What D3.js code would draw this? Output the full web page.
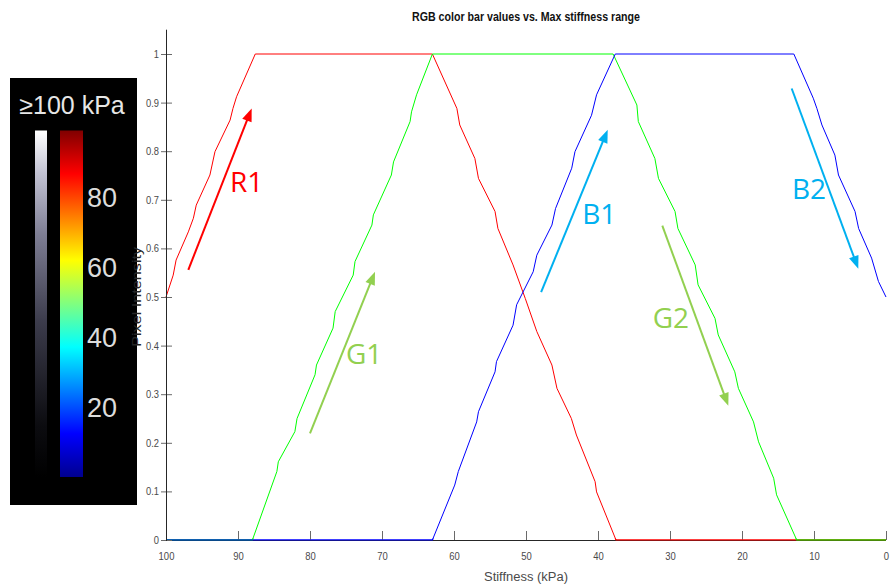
<!DOCTYPE html>
<html>
<head>
<meta charset="utf-8">
<script src="https://cdn.jsdelivr.net/npm/d3@7"></script>
<style>
  html, body { margin: 0; padding: 0; background: #fff; }
  svg { display: block; }
</style>
</head>
<body>
<svg id="chart" width="890" height="588"></svg>
<script>
// ---------- data (stiffness kPa, pixel intensity) ----------
const redCurve = [[100,0.5],[99.0,0.545],[98.6,0.576],[96.9,0.634],[96.2,0.662],[95.8,0.689],[93.9,0.751],[93.2,0.799],[91.1,0.864],[90.7,0.888],[90.2,0.912],[87.6,1],[63.0,1],[59.6,0.888],[59.2,0.854],[57.1,0.785],[56.6,0.744],[54.3,0.676],[53.9,0.641],[51.8,0.566],[50.1,0.497],[48.5,0.429],[46.4,0.360],[45.7,0.312],[43.7,0.250],[43.0,0.216],[40.4,0.120],[40.2,0.099],[37.5,0],[0,0]];
const greenCurve = [[100,0],[88.0,0],[84.6,0.141],[84.4,0.161],[82.1,0.223],[81.8,0.250],[79.3,0.340],[79.1,0.360],[76.8,0.436],[76.5,0.470],[74.0,0.545],[73.75,0.573],[71.4,0.648],[71.2,0.669],[68.7,0.751],[68.4,0.778],[66.1,0.861],[65.9,0.881],[65.2,0.916],[63.0,1],[37.9,1],[34.6,0.895],[34.4,0.861],[32.1,0.785],[31.6,0.744],[29.3,0.676],[28.9,0.641],[26.5,0.566],[26.1,0.525],[23.75,0.456],[23.3,0.422],[21.0,0.346],[20.5,0.312],[18.4,0.243],[17.7,0.202],[15.6,0.127],[15.2,0.093],[12.4,0],[0,0]];
const blueCurve = [[100,0],[63.0,0],[59.9,0.113],[59.4,0.141],[56.85,0.243],[56.6,0.264],[54.3,0.346],[54.1,0.367],[51.8,0.442],[51.3,0.484],[49.0,0.552],[48.5,0.586],[46.4,0.648],[45.9,0.682],[43.65,0.765],[43.2,0.799],[40.9,0.874],[40.2,0.916],[37.6,1],[12.8,1],[10.1,0.909],[9.6,0.888],[8.9,0.854],[7.1,0.792],[6.6,0.751],[4.3,0.676],[3.8,0.641],[2.0,0.580],[1.05,0.532],[0,0.5]];

const xTickValues = [100,90,80,70,60,50,40,30,20,10,0];
const yTickValues = [0,0.1,0.2,0.3,0.4,0.5,0.6,0.7,0.8,0.9,1];
const colorbarTicks = [20,40,60,80];

// annotation arrows (in data units)
const annLabels = ["R1","G1","B1","G2","B2"];
const annTail = [[96.9,0.556],[80.0,0.2195],[47.9,0.510],[31.07,0.647],[13.1,0.929]];
const annTip  = [[88.1,0.888],[70.97,0.552],[38.65,0.844],[21.9,0.276],[3.85,0.558]];
const annText = [[91.1,0.717],[75.0,0.362],[42.2,0.650],[32.4,0.436],[13.06,0.702]];

// ---------- styles ----------
const annColors = {R:"#ff0000", G:"#92d050", B:"#00b0f0"};
const W = 890, H = 588;

const svg = d3.select("#chart");
svg.append("rect").attr("width", W).attr("height", H).attr("fill", "#fff");

const x = d3.scaleLinear().domain([100, 0]).range([166, 886]);
const y = d3.scaleLinear().domain([0, 1]).range([540, 54]);
const yTop = y(1.05);

const defs = svg.append("defs");

// ---------- colorbar panel ----------
const panel = svg.append("g");
panel.append("rect").attr("x", 10).attr("y", 78).attr("width", 127).attr("height", 427).attr("fill", "#000");
panel.append("text").attr("x", 72).attr("y", 114).attr("text-anchor", "middle")
  .attr("font-family", "Liberation Sans, Arial, sans-serif").attr("font-size", 25)
  .attr("fill", "#e6e6e6").text("≥100 kPa");

const cb = d3.scaleLinear().domain([0, 100]).range([477, 127]);

const jetStops = [[0,"#00008f"],[0.125,"#0000ff"],[0.375,"#00ffff"],[0.625,"#ffff00"],[0.875,"#ff0000"],[1,"#800000"]];
const jg = defs.append("linearGradient").attr("id","jet").attr("x1",0).attr("x2",0).attr("y1",1).attr("y2",0);
jetStops.forEach(s => jg.append("stop").attr("offset", s[0]).attr("stop-color", s[1]));
panel.append("rect").attr("x", 60).attr("y", cb(99)).attr("width", 23).attr("height", cb(0) - cb(99)).attr("fill", "url(#jet)");

const grayStops = [[0,"#000000"],[0.15,"#0c0c10"],[0.45,"#3c3c4c"],[0.7,"#7e7e94"],[0.88,"#c4c4d4"],[1,"#ffffff"]];
const gg = defs.append("linearGradient").attr("id","gray").attr("x1",0).attr("x2",0).attr("y1",1).attr("y2",0);
grayStops.forEach(s => gg.append("stop").attr("offset", s[0]).attr("stop-color", s[1]));
panel.append("rect").attr("x", 35).attr("y", cb(99)).attr("width", 12).attr("height", cb(0) - cb(99)).attr("fill", "url(#gray)");

panel.selectAll("text.cbt").data(colorbarTicks).join("text").attr("class","cbt")
  .attr("x", 87).attr("y", d => cb(d)).attr("dy", "0.36em")
  .attr("font-family", "Liberation Sans, Arial, sans-serif").attr("font-size", 27)
  .attr("fill", "#dcdcdc").text(d => d);

// ---------- axes ----------
const axisColor = "#262626";
const labelColor = "#4a4a4a";
const g = svg.append("g");

const line = d3.line().x(d => x(d[0])).y(d => y(d[1]));
const curves = [[redCurve,"#ff0000"],[greenCurve,"#00ff00"],[blueCurve,"#0000ff"]];
curves.forEach(([data,col]) => {
  g.append("path").datum(data).attr("d", line).attr("fill","none")
    .attr("stroke", col).attr("stroke-width", 1).attr("stroke-linejoin","round");
});

function condense(sel, k) {
  sel.each(function() {
    const len = this.getComputedTextLength();
    d3.select(this).attr("textLength", len * k).attr("lengthAdjust", "spacingAndGlyphs");
  });
}

// x axis
const xAxis = d3.axisBottom(x).tickValues(xTickValues).tickSize(0).tickPadding(0).tickFormat(d3.format("d"));
const xg = svg.append("g").attr("transform", `translate(0,${y(0)})`).call(xAxis);
xg.select(".domain").remove();
xg.selectAll(".tick text").attr("dy", 0).attr("y", 20)
  .attr("font-family","Liberation Sans, Arial, sans-serif").attr("font-size", 11).attr("fill", labelColor)
  .call(condense, 0.86);
xg.selectAll(".tick").append("line").attr("y1", 0).attr("y2", -9).attr("stroke", "#6a6a6a").attr("stroke-width", 1);
svg.append("line").attr("x1", x(100)).attr("x2", x(0)).attr("y1", y(0)+0.5).attr("y2", y(0)+0.5)
  .attr("stroke", axisColor).attr("stroke-width", 1);
defs.append("clipPath").attr("id","bottomClip").append("rect")
  .attr("x", 0).attr("y", y(0) - 1.5).attr("width", W).attr("height", 3);
curves.forEach(([data,col]) => {
  svg.append("path").datum(data).attr("d", line).attr("fill","none")
    .attr("stroke", col).attr("stroke-width", 1.2).attr("stroke-linejoin","round")
    .attr("clip-path","url(#bottomClip)");
});

// y axis
const yAxis = d3.axisLeft(y).tickValues(yTickValues).tickSize(0).tickPadding(0)
  .tickFormat(d => d === 0 || d === 1 ? String(d) : d3.format(".1f")(d));
const yg = svg.append("g").attr("transform", `translate(${x(100)},0)`).call(yAxis);
yg.select(".domain").remove();
yg.selectAll(".tick text").attr("x", -7)
  .attr("font-family","Liberation Sans, Arial, sans-serif").attr("font-size", 11).attr("fill", labelColor)
  .call(condense, 0.85);
yg.selectAll(".tick").append("line").attr("x1", -5).attr("x2", 6).attr("stroke", "#6a6a6a").attr("stroke-width", 1);
svg.append("line").attr("x1", x(100)+0.5).attr("x2", x(100)+0.5).attr("y1", yTop).attr("y2", y(0)+1)
  .attr("stroke", axisColor).attr("stroke-width", 1);

// titles
svg.append("text").attr("x", (x(100)+x(0))/2).attr("y", 21).attr("text-anchor","middle")
  .attr("font-family","Liberation Sans, Arial, sans-serif").attr("font-size", 12).attr("font-weight","bold")
  .attr("fill", "#111").attr("textLength", 228).attr("lengthAdjust","spacingAndGlyphs")
  .text("RGB color bar values vs. Max stiffness range");
svg.append("text").attr("x", (x(100)+x(0))/2).attr("y", 581).attr("text-anchor","middle")
  .attr("font-family","Liberation Sans, Arial, sans-serif").attr("font-size", 12)
  .attr("fill", labelColor).attr("textLength", 84).attr("lengthAdjust","spacingAndGlyphs")
  .text("Stiffness (kPa)");
svg.append("text").attr("transform", `translate(141,${(y(0)+yTop)/2 + 12}) rotate(-90)`).attr("text-anchor","middle")
  .attr("font-family","Liberation Sans, Arial, sans-serif").attr("font-size", 12)
  .attr("fill", axisColor).attr("textLength", 100).attr("lengthAdjust","spacingAndGlyphs")
  .text("Pixel Intensity");

// ---------- annotations ----------
const ann = svg.append("g");
annLabels.forEach((lab, i) => {
  const col = annColors[lab[0]];
  const x0 = x(annTail[i][0]), y0 = y(annTail[i][1]);
  const x1 = x(annTip[i][0]),  y1 = y(annTip[i][1]);
  const ang = Math.atan2(y1 - y0, x1 - x0);
  const headLen = 13, headHalf = 5;
  const bx = x1 - headLen * Math.cos(ang), by = y1 - headLen * Math.sin(ang);
  ann.append("line").attr("x1", x0).attr("y1", y0)
    .attr("x2", x1 - (headLen-2) * Math.cos(ang)).attr("y2", y1 - (headLen-2) * Math.sin(ang))
    .attr("stroke", col).attr("stroke-width", 2);
  const px = -Math.sin(ang), py = Math.cos(ang);
  ann.append("path")
    .attr("d", `M${x1},${y1}L${bx + headHalf*px},${by + headHalf*py}L${bx - headHalf*px},${by - headHalf*py}Z`)
    .attr("fill", col);
  ann.append("text").attr("x", x(annText[i][0])).attr("y", y(annText[i][1]))
    .attr("font-family","Open Sans, Lato, sans-serif").attr("font-size", 28)
    .attr("fill", col).text(lab);
});
</script>
</body>
</html>
